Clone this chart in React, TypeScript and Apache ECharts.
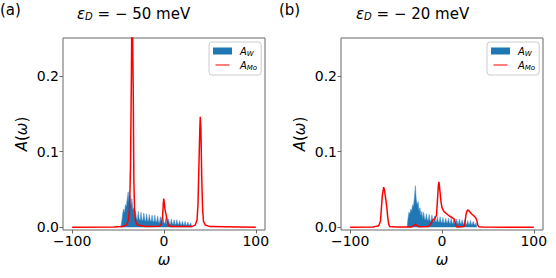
import React, { useEffect, useRef } from 'react';
import * as echarts from 'echarts';

const X_TICKS = [-100, 0, 100];
const Y_TICKS = [0, 0.1, 0.2];

// panel (a): eps_D = -50 meV
const BLUE_A_START = -47; // omega of first value, step 1
const BLUE_A = [
  0, 0.008, 0.018, 0.024, 0.02, 0.03, 0.028, 0.038, 0.047, 0.034,
  0.042, 0.03, 0.038, 0.024, 0.026, 0.014, 0.022, 0.012, 0.01, 0.021,
  0.011, 0.009, 0.02, 0.01, 0.009, 0.019, 0.01, 0.008, 0.018, 0.009,
  0.008, 0.017, 0.009, 0.008, 0.016, 0.008, 0.007, 0.016, 0.008, 0.007,
  0.015, 0.007, 0.006, 0.014, 0.007, 0.006, 0.013, 0.006, 0.005, 0.012,
  0.005, 0.005, 0.011, 0.005, 0.004, 0.011, 0.005, 0.004, 0.01, 0.004,
  0.004, 0.01, 0.004, 0.004, 0.009, 0.004, 0.003, 0.008, 0.004, 0.003,
  0.008, 0.003, 0.003, 0.007, 0.003, 0.003, 0.006, 0.002, 0,
];
const RED_A: [number, number][] = [
  [-100, 0], [-55, 0.0005], [-45, 0.001], [-41, 0.003], [-39, 0.008], [-37.5, 0.025],
  [-36.5, 0.08], [-35.5, 0.2], [-34.8, 0.32], [-34.2, 0.32], [-33.5, 0.18], [-32.8, 0.06],
  [-32, 0.02], [-31, 0.008], [-29, 0.003], [-20, 0.001], [-5, 0.0015], [-3, 0.004],
  [-1.5, 0.015], [-0.8, 0.03], [-0.3, 0.038], [0.3, 0.033], [1, 0.024], [2, 0.018],
  [3, 0.012], [4, 0.006], [5, 0.002], [8, 0.001], [30, 0.001], [34, 0.003], [36, 0.01],
  [37, 0.03], [38, 0.08], [39, 0.13], [39.5, 0.146], [40.2, 0.13], [41, 0.07], [42, 0.025],
  [43, 0.008], [45, 0.003], [50, 0.001], [100, 0],
];

// panel (b): eps_D = -20 meV
const BLUE_B_START = -38;
const BLUE_B = [
  0, 0.012, 0.02, 0.018, 0.024, 0.022, 0.03, 0.028, 0.04, 0.055,
  0.036, 0.03, 0.034, 0.022, 0.026, 0.016, 0.021, 0.012, 0.02, 0.011,
  0.01, 0.018, 0.01, 0.009, 0.017, 0.009, 0.008, 0.016, 0.008, 0.008,
  0.015, 0.008, 0.007, 0.014, 0.007, 0.007, 0.014, 0.007, 0.006, 0.013,
  0.006, 0.006, 0.012, 0.006, 0.006, 0.012, 0.006, 0.005, 0.012, 0.006,
  0.005, 0.011, 0.005, 0.005, 0.011, 0.005, 0.005, 0.011, 0.005, 0.005,
  0.01, 0.005, 0.004, 0.01, 0.004, 0.004, 0.009, 0.004, 0.004, 0.009,
  0.004, 0.004, 0.008, 0.004, 0.003, 0.006, 0,
];
const RED_B: [number, number][] = [
  [-100, 0], [-75, 0.0005], [-69, 0.002], [-67, 0.008], [-66, 0.025], [-65, 0.042],
  [-63.5, 0.053], [-62.5, 0.048], [-61, 0.035], [-60, 0.025], [-59, 0.012], [-58, 0.004],
  [-57, 0.001], [-50, 0.0005], [-33, 0.0005], [-31, 0.002], [-29, 0.004], [-27, 0.002],
  [-25, 0.0008], [-15, 0.001], [-12, 0.005], [-10, 0.01], [-8, 0.011], [-6, 0.016],
  [-5, 0.035], [-4, 0.055], [-3.3, 0.06], [-2, 0.045], [-1, 0.033], [0, 0.026], [2, 0.021],
  [5, 0.018], [8, 0.015], [11, 0.013], [13.5, 0.011], [14.5, 0.006], [15.5, 0.001],
  [17, 0.0005], [24, 0.001], [25, 0.006], [26, 0.016], [27, 0.021], [28, 0.023], [30, 0.021],
  [32, 0.018], [34, 0.016], [36.5, 0.013], [38, 0.009], [39, 0.003], [40, 0.0008],
  [45, 0.0003], [100, 0],
];

const PANELS = [
  { label: '(a)', eps: '50', blueStart: BLUE_A_START, blue: BLUE_A, red: RED_A },
  { label: '(b)', eps: '20', blueStart: BLUE_B_START, blue: BLUE_B, red: RED_B },
];

const FONT = 'DejaVu Sans';
const FRAME = '#666';
const BLUE = '#1f77b4';
const RED = '#ff0000';
const LINE_ICON = 'path://M0,0L0.01,0L0.01,0.01ZM0,4.3L20,4.3L20,5.7L0,5.7ZM19.99,9.99L20,9.99L20,10Z';

const fmtX = (v: number) => (v < 0 ? '\u2212' + Math.abs(v) : String(v));

export default function App() {
  const ref = useRef<HTMLDivElement>(null);
  useEffect(() => {
    if (!ref.current) return;
    const chart = echarts.init(ref.current, undefined, { renderer: 'svg' });
    const gridLeft = [63, 341];
    const legendLeft = [209, 487];
    const titleLeft = [77, 356];
    const labelLeft = [0, 279];

    const grid: any[] = [];
    const xAxis: any[] = [];
    const yAxis: any[] = [];
    const series: any[] = [];
    const legend: any[] = [];
    const graphic: any[] = [];

    PANELS.forEach((p, k) => {
      grid.push({
        left: gridLeft[k], top: 38, width: 202, height: 192,
        show: true, borderColor: FRAME, borderWidth: 1, backgroundColor: 'transparent',
      });
      xAxis.push({
        gridIndex: k, type: 'value', min: -110, max: 110, position: 'bottom',
        axisLine: { show: false, onZero: false }, splitLine: { show: false },
        axisTick: { show: true, customValues: X_TICKS, length: 3.5, lineStyle: { color: FRAME } },
        axisLabel: { customValues: X_TICKS, formatter: fmtX, fontSize: 14, color: '#000', margin: 4, fontFamily: FONT },
        name: 'ω', nameLocation: 'middle', nameGap: 22,
        nameTextStyle: { fontStyle: 'italic', fontSize: 15, color: '#000', fontFamily: FONT },
      });
      yAxis.push({
        gridIndex: k, type: 'value', min: -0.0035, max: 0.25, position: 'left',
        axisLine: { show: false, onZero: false }, splitLine: { show: false },
        axisTick: { show: true, customValues: Y_TICKS, length: 3.5, lineStyle: { color: FRAME } },
        axisLabel: { customValues: Y_TICKS, formatter: (v: number) => v.toFixed(1), fontSize: 14, color: '#000', margin: 4, fontFamily: FONT },
        name: '{i|A}{n|(}{i|ω}{n|)}', nameLocation: 'middle', nameGap: 34, nameRotate: 90,
        nameTextStyle: {
          fontSize: 15, color: '#000', fontFamily: FONT,
          rich: { i: { fontStyle: 'italic', fontSize: 15, fontFamily: FONT }, n: { fontSize: 15, fontFamily: FONT } },
        },
      });
      series.push({
        type: 'line', name: 'A_W', xAxisIndex: k, yAxisIndex: k,
        data: p.blue.map((v, i) => [p.blueStart + i, v]),
        symbol: 'none', showSymbol: false,
        lineStyle: { width: 0.6, color: '#4f93c9' }, itemStyle: { color: BLUE },
        areaStyle: { color: BLUE, opacity: 1 }, z: 2,
      });
      series.push({
        type: 'line', name: 'A_Mo', xAxisIndex: k, yAxisIndex: k,
        data: p.red, symbol: 'none', showSymbol: false,
        lineStyle: { width: 1.5, color: RED }, itemStyle: { color: RED }, z: 3,
      });
      legend.push({
        left: legendLeft[k], top: 42, orient: 'vertical',
        data: [{ name: 'A_W', icon: 'rect' }, { name: 'A_Mo', icon: LINE_ICON }],
        itemWidth: 19, itemHeight: 7, itemGap: 3, padding: [4, 4, 4, 4],
        borderColor: '#ccc', borderWidth: 1, borderRadius: 3,
        backgroundColor: 'rgba(255,255,255,0.8)', selectedMode: false,
        formatter: (n: string) => (n === 'A_W' ? '{i|A}{s|W}' : '{i|A}{s|Mo}'),
        textStyle: {
          color: '#000', fontFamily: FONT,
          rich: {
            i: { fontStyle: 'italic', fontSize: 10, fontFamily: FONT, padding: [0, 0, 0, 3] },
            s: { fontStyle: 'italic', fontSize: 7, fontFamily: FONT, verticalAlign: 'bottom', padding: [5, 0, 0, 0] },
          },
        },
      });
      graphic.push({
        type: 'text', left: labelLeft[k], top: 2,
        style: { text: p.label, fontSize: 15, fontFamily: FONT, fill: '#000' },
      });
      graphic.push({
        type: 'text', left: titleLeft[k], top: 6,
        style: {
          text: '{i|ε}{s|D}{n| = \u2212 ' + p.eps + ' meV}',
          fill: '#000',
          rich: {
            i: { fontStyle: 'italic', fontSize: 15, fontFamily: FONT },
            s: { fontStyle: 'italic', fontSize: 10, fontFamily: FONT, verticalAlign: 'bottom', padding: [6, 0, 0, 0] },
            n: { fontSize: 15, fontFamily: FONT },
          },
        },
      });
    });

    chart.setOption({ animation: false, grid, xAxis, yAxis, series, legend, graphic });
    return () => chart.dispose();
  }, []);
  return <div ref={ref} style={{ position: 'absolute', left: 0, top: 0, width: 556, height: 278 }} />;
}
